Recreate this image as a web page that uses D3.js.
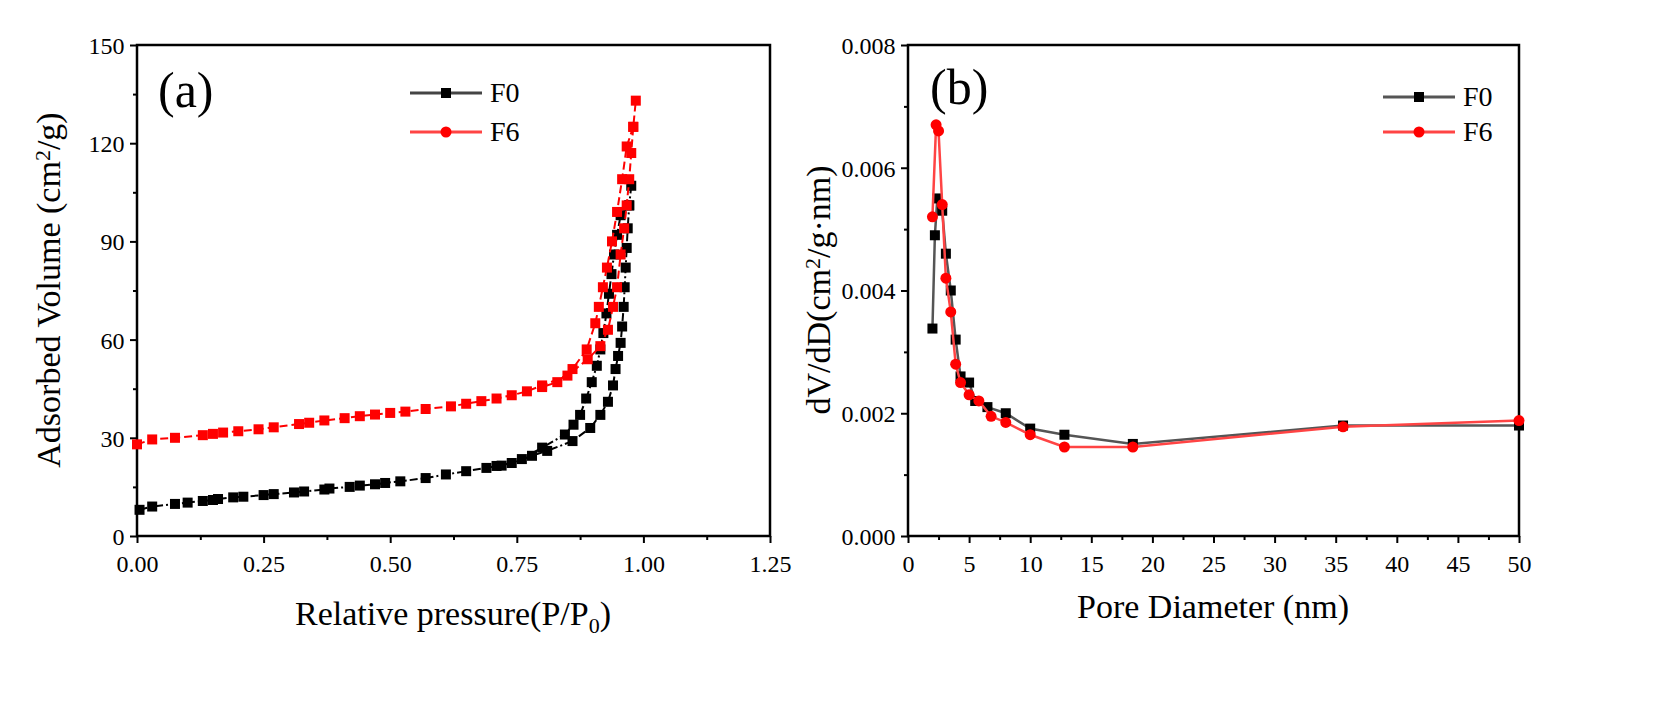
<!DOCTYPE html>
<html><head><meta charset="utf-8">
<script src="https://cdn.jsdelivr.net/npm/d3@7"></script>
<style>body{margin:0;background:#fff}svg text{font-family:"Liberation Serif","DejaVu Serif",serif !important}</style>
</head><body><svg id="c" width="1661" height="701" font-family="Liberation Serif, serif"></svg>
<script>
const xTicksA=[0,0.25,0.5,0.75,1.0,1.25];
const yTicksA=[0,30,60,90,120,150];
const xTicksB=[0,5,10,15,20,25,30,35,40,45,50];
const yTicksB=[0,0.002,0.004,0.006,0.008];
const f0Ads=[[0.005,8],[0.03,9],[0.075,9.8],[0.1,10.2],[0.13,10.7],[0.15,11],[0.16,11.3],[0.19,11.8],[0.21,12],[0.25,12.5],[0.27,12.8],[0.31,13.3],[0.33,13.6],[0.37,14.2],[0.38,14.5],[0.42,15],[0.44,15.4],[0.47,15.8],[0.49,16.2],[0.52,16.7],[0.57,17.7],[0.61,18.8],[0.65,19.8],[0.69,20.8],[0.71,21.4],[0.74,22.3],[0.78,24.5],[0.81,26],[0.86,29],[0.895,33],[0.915,37],[0.93,41],[0.94,46],[0.945,51],[0.95,55],[0.955,59],[0.958,64],[0.961,70],[0.963,76],[0.965,82],[0.967,88],[0.969,94],[0.972,101],[0.976,107]];
const f0Des=[[0.972,101],[0.955,98],[0.948,92],[0.942,86],[0.937,80],[0.932,74],[0.927,68],[0.921,62],[0.915,57],[0.908,52],[0.898,47],[0.887,42],[0.875,37],[0.862,34],[0.845,31],[0.8,27],[0.76,23.5],[0.72,21.5]];
const f6Ads=[[0,28],[0.03,29.5],[0.075,30],[0.13,30.8],[0.15,31.2],[0.17,31.6],[0.2,32],[0.24,32.6],[0.27,33.2],[0.32,34.2],[0.34,34.6],[0.37,35.3],[0.41,36],[0.44,36.6],[0.47,37.1],[0.5,37.6],[0.53,38],[0.57,38.8],[0.62,39.6],[0.65,40.4],[0.68,41.2],[0.71,42],[0.74,43],[0.77,44.2],[0.8,46],[0.85,49],[0.89,54],[0.915,58],[0.93,63],[0.94,70],[0.948,76],[0.955,86],[0.962,94],[0.967,101],[0.972,109],[0.976,117],[0.98,125],[0.985,133]];
const f6Des=[[0.98,125],[0.967,119],[0.958,109],[0.948,99],[0.938,90],[0.928,82],[0.92,76],[0.912,70],[0.905,65],[0.888,57],[0.86,51],[0.83,47],[0.8,45.5]];
const f0Pore=[[2.0,0.00338],[2.2,0.0049],[2.4,0.0055],[2.8,0.0053],[3.1,0.0046],[3.5,0.0040],[3.9,0.0032],[4.3,0.0026],[5,0.0025],[5.5,0.0022],[6.5,0.0021],[8,0.0020],[10,0.00175],[12.8,0.00165],[18.4,0.0015],[35.6,0.0018],[50,0.0018]];
const f6Pore=[[2.0,0.0052],[2.3,0.0067],[2.5,0.0066],[2.8,0.0054],[3.1,0.0042],[3.5,0.00365],[3.9,0.0028],[4.3,0.0025],[5,0.0023],[5.8,0.0022],[6.8,0.00195],[8,0.00185],[10,0.00165],[12.8,0.00145],[18.4,0.00145],[35.6,0.00178],[50,0.00188]];

const FF="Liberation Serif, DejaVu Serif, serif";
const svg=d3.select("#c");
const T=45,B=536;
function panel(x0,x1,xd,yd,xt,yt,xfmt,yfmt){
  const x=d3.scaleLinear().domain(xd).range([x0,x1]);
  const y=d3.scaleLinear().domain(yd).range([B,T]);
  const g=svg.append("g");
  const ax=g.append("g").attr("transform",`translate(0,${B})`).call(d3.axisBottom(x).tickValues(xt).tickFormat(xfmt).tickSize(7).tickSizeOuter(0));
  g.append("g").attr("transform",`translate(0,${B})`).call(d3.axisBottom(x).tickValues(d3.range(xt.length-1).map(i=>(xt[i]+xt[i+1])/2)).tickFormat("").tickSize(4).tickSizeOuter(0));
  const ay=g.append("g").attr("transform",`translate(${x0},0)`).call(d3.axisLeft(y).tickValues(yt).tickFormat(yfmt).tickSize(7).tickSizeOuter(0));
  g.append("g").attr("transform",`translate(${x0},0)`).call(d3.axisLeft(y).tickValues(d3.range(yt.length-1).map(i=>(yt[i]+yt[i+1])/2)).tickFormat("").tickSize(4).tickSizeOuter(0));
  g.selectAll("g").attr("font-family",FF);
  g.selectAll(".domain").remove();
  g.selectAll(".tick line").attr("stroke","#000").attr("stroke-width",2);
  ax.selectAll("text").attr("font-size",24).attr("font-family",FF).attr("dy","1.1em").attr("fill","#000");
  ay.selectAll("text").attr("font-size",24).attr("font-family",FF).attr("dx","-0.1em").attr("dy","0.35em").attr("fill","#000");
  g.append("rect").attr("x",x0).attr("y",T).attr("width",x1-x0).attr("height",B-T).attr("fill","none").attr("stroke","#000").attr("stroke-width",2.5);
  return {x,y,g};
}
const A=panel(137,770,[0,1.25],[0,150],xTicksA,yTicksA,d3.format(".2f"),d3.format("d"));
const Bp=panel(908,1519,[0,50],[0,0.008],xTicksB,yTicksB,d3.format("d"),d3.format(".3f"));

function series(P,data,color,dash,shape,sz,lw){
  const line=d3.line().x(d=>P.x(d[0])).y(d=>P.y(d[1]));
  svg.append("path").datum(data).attr("d",line).attr("fill","none").attr("stroke",color).attr("stroke-width",lw).attr("stroke-dasharray",dash);
  const fill=color=="#555"?"#000":(color=="#f44"?"#f00":color);
  if(shape=="sq") svg.selectAll(null).data(data).enter().append("rect").attr("x",d=>P.x(d[0])-sz/2).attr("y",d=>P.y(d[1])-sz/2).attr("width",sz).attr("height",sz).attr("fill",fill);
  else svg.selectAll(null).data(data).enter().append("circle").attr("cx",d=>P.x(d[0])).attr("cy",d=>P.y(d[1])).attr("r",sz/2).attr("fill",fill);
}
series(A,f0Ads,"#000","8,3,2,3","sq",10,2);
series(A,f0Des,"#000","8,3,2,3","sq",10,2);
series(A,f6Ads,"#f00","8,4","sq",10,2);
series(A,f6Des,"#f00","8,4","sq",10,2);
series(Bp,f0Pore,"#555",null,"sq",10,2.5);
series(Bp,f6Pore,"#f44",null,"ci",11,2.5);

function legend(x,y,color,fill,shape,label){
  svg.append("line").attr("x1",x).attr("x2",x+72).attr("y1",y).attr("y2",y).attr("stroke",color).attr("stroke-width",3);
  if(shape=="sq") svg.append("rect").attr("x",x+31).attr("y",y-5).attr("width",10).attr("height",10).attr("fill",fill);
  else svg.append("circle").attr("cx",x+36).attr("cy",y).attr("r",5.5).attr("fill",fill);
  svg.append("text").attr("x",x+80).attr("y",y+9).attr("font-size",28).attr("font-family",FF).text(label);
}
legend(410,93,"#444","#000","sq","F0");
legend(410,132,"#f44","#f00","ci","F6");
legend(1383,97,"#555","#000","sq","F0");
legend(1383,132,"#f44","#f00","ci","F6");

svg.append("text").attr("x",158).attr("y",107).attr("font-size",50).attr("font-family",FF).text("(a)");
svg.append("text").attr("x",930).attr("y",104).attr("font-size",50).attr("font-family",FF).text("(b)");
const xa=svg.append("text").attr("x",453).attr("y",625).attr("text-anchor","middle").attr("font-size",34).attr("font-family",FF);
xa.append("tspan").text("Relative pressure(P/P");xa.append("tspan").attr("font-size",22).attr("dy",8).text("0");xa.append("tspan").attr("dy",-8).text(")");
svg.append("text").attr("x",1213).attr("y",618).attr("text-anchor","middle").attr("font-size",34).attr("font-family",FF).text("Pore Diameter (nm)");
const ya=svg.append("text").attr("transform","translate(60,290) rotate(-90)").attr("text-anchor","middle").attr("font-size",34).attr("font-family",FF);
ya.append("tspan").text("Adsorbed Volume (cm");ya.append("tspan").attr("font-size",22).attr("dy",-10).text("2");ya.append("tspan").attr("dy",10).text("/g)");
const yb=svg.append("text").attr("transform","translate(830,290) rotate(-90)").attr("text-anchor","middle").attr("font-size",34).attr("font-family",FF);
yb.append("tspan").text("dV/dD(cm");yb.append("tspan").attr("font-size",22).attr("dy",-10).text("2");yb.append("tspan").attr("dy",10).text("/g·nm)");
</script></body></html>
